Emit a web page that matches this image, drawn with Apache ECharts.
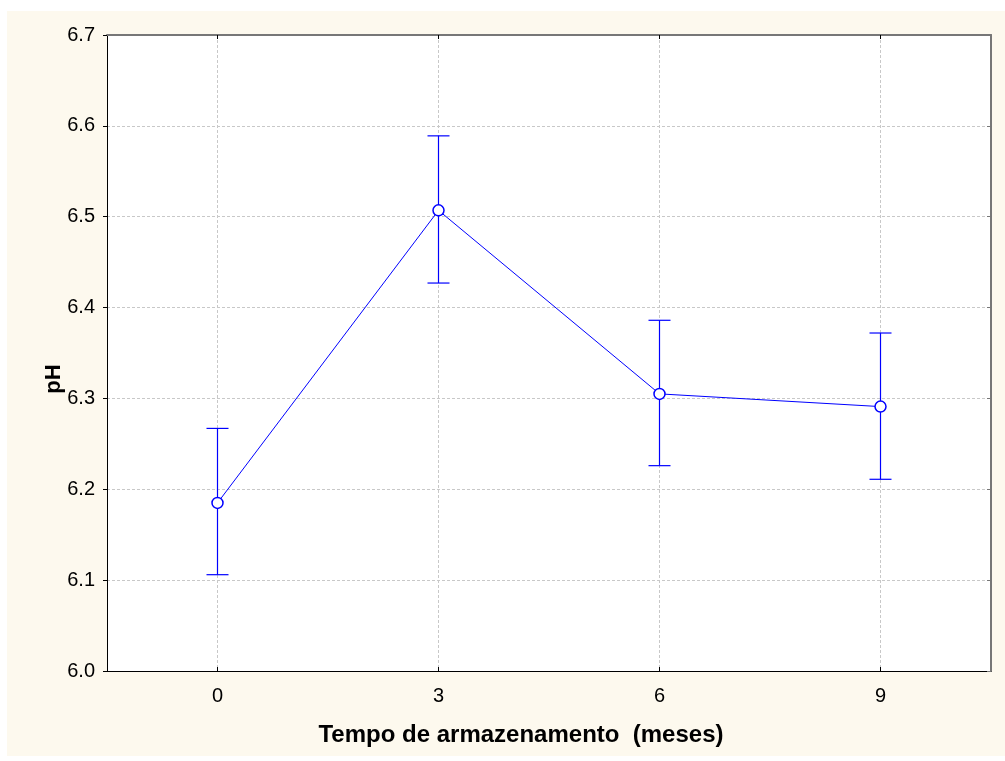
<!DOCTYPE html>
<html><head><meta charset="utf-8">
<script src="https://cdn.jsdelivr.net/npm/echarts@6/dist/echarts.min.js"></script>
<style>html,body{margin:0;padding:0;background:#fff}#c{width:1005px;height:761px}</style>
</head><body><div id="c"></div>
<script>
const categories = ['0', '3', '6', '9'];
const means = [6.185, 6.507, 6.305, 6.291];
const upper = [6.267, 6.589, 6.386, 6.372];
const lower = [6.106, 6.427, 6.226, 6.211];
const yTicks = { min: 6.0, max: 6.7, interval: 0.1 };

const font = 'Liberation Sans, Arial, sans-serif';
const blue = '#0000ff';
const errData = categories.map((c, i) => [i, lower[i], upper[i]]);

const chart = echarts.init(document.getElementById('c'), null, { renderer: 'canvas' });
chart.setOption({
  backgroundColor: '#ffffff',
  animation: false,
  graphic: [{
    type: 'rect', z: -10, silent: true,
    shape: { x: 7, y: 11, width: 998, height: 745 },
    style: { fill: '#fdf9ee' }
  }],
  grid: { left: 107, top: 35, right: 14, bottom: 90, show: true, backgroundColor: '#ffffff', borderWidth: 0 },
  xAxis: [{
    type: 'category', data: categories, boundaryGap: true,
    axisLine: { show: true, lineStyle: { color: '#000', width: 1 } },
    axisTick: { show: true, inside: true, alignWithLabel: true, length: 4, lineStyle: { color: '#000' } },
    axisLabel: { color: '#000', fontFamily: font, fontSize: 20, margin: 15 },
    splitLine: { show: true, alignWithLabel: true, lineStyle: { color: '#c8c8c8', type: [3, 2], width: 1 } },
    name: 'Tempo de armazenamento  (meses)', nameLocation: 'middle', nameGap: 52,
    nameTextStyle: { color: '#000', fontFamily: font, fontSize: 24, fontWeight: 'bold', padding: [0, 56, 0, 0] }
  }, {
    type: 'category', data: categories, boundaryGap: true, position: 'top',
    axisLine: { show: true, lineStyle: { color: '#777', width: 2 } },
    axisTick: { show: true, inside: true, alignWithLabel: true, length: 4, lineStyle: { color: '#000' } },
    axisLabel: { show: false }, splitLine: { show: false }
  }],
  yAxis: [{
    type: 'value', min: yTicks.min, max: yTicks.max, interval: yTicks.interval,
    axisLine: { show: true, lineStyle: { color: '#000', width: 1 } },
    axisTick: { show: true, inside: false, length: 4, lineStyle: { color: '#000' } },
    axisLabel: { color: '#000', fontFamily: font, fontSize: 20, margin: 12, formatter: v => v.toFixed(1) },
    splitLine: { show: true, lineStyle: { color: '#c8c8c8', type: [3, 2], width: 1 } },
    name: 'pH', nameLocation: 'middle', nameGap: 42, nameRotate: 90, nameMoveOverlap: false,
    nameTextStyle: { color: '#000', fontFamily: font, fontSize: 22, fontWeight: 'bold', padding: [0, 52, 0, 0] }
  }, {
    type: 'value', min: yTicks.min, max: yTicks.max, interval: yTicks.interval, position: 'right',
    axisLine: { show: true, lineStyle: { color: '#777', width: 2 } },
    axisTick: { show: true, inside: true, length: 4, lineStyle: { color: '#777' } },
    axisLabel: { show: false }, splitLine: { show: false }
  }],
  series: [{
    type: 'custom', xAxisIndex: 0, yAxisIndex: 0, z: 2,
    data: errData,
    renderItem: function (params, api) {
      const x = api.value(0);
      const lo = api.coord([x, api.value(1)]);
      const hi = api.coord([x, api.value(2)]);
      const hw = 11;
      const st = { stroke: blue, lineWidth: 1.2 };
      return {
        type: 'group', children: [
          { type: 'line', shape: { x1: lo[0], y1: lo[1], x2: hi[0], y2: hi[1] }, style: st },
          { type: 'line', shape: { x1: hi[0] - hw, y1: hi[1], x2: hi[0] + hw, y2: hi[1] }, style: st },
          { type: 'line', shape: { x1: lo[0] - hw, y1: lo[1], x2: lo[0] + hw, y2: lo[1] }, style: st }
        ]
      };
    }
  }, {
    type: 'line', xAxisIndex: 0, yAxisIndex: 0, z: 3,
    data: means,
    symbol: 'circle', symbolSize: 11,
    lineStyle: { color: blue, width: 1 },
    itemStyle: { color: '#fff', borderColor: blue, borderWidth: 1.5 }
  }]
});
</script></body></html>
